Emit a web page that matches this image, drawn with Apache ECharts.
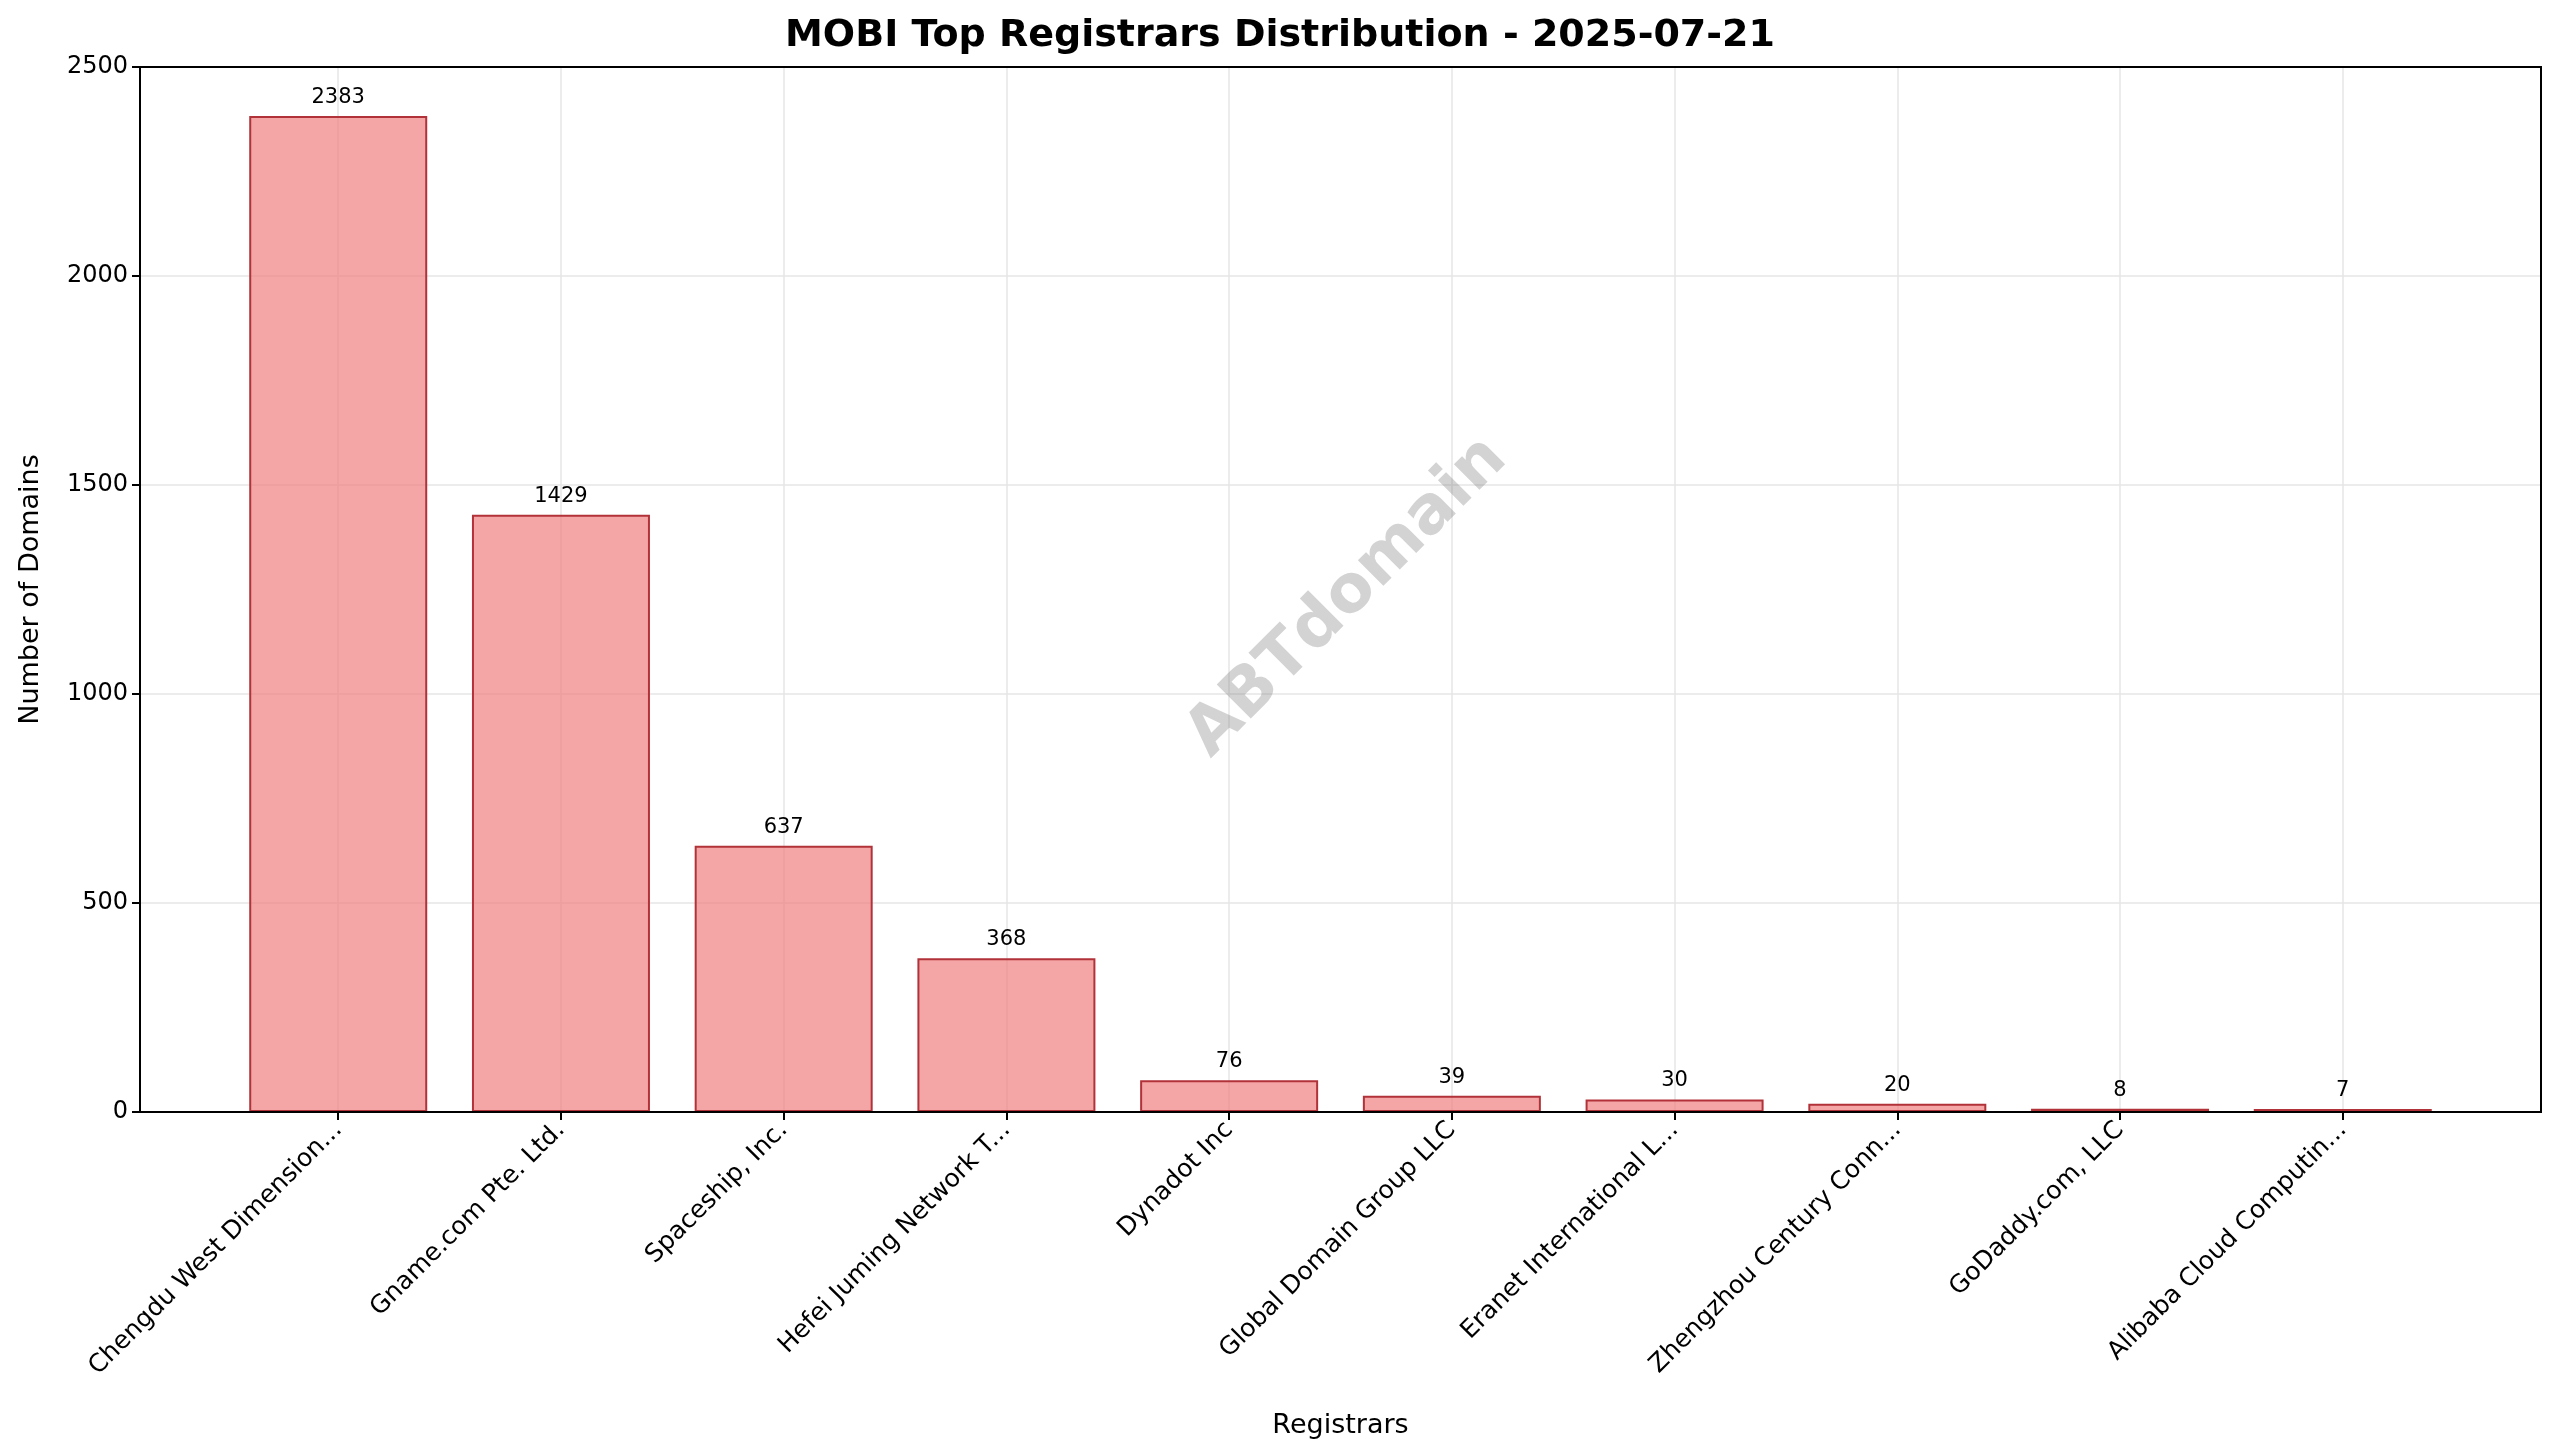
<!DOCTYPE html>
<html>
<head>
    <meta charset="utf-8">
    <title>ECharts</title>
    <script src="https://cdn.jsdelivr.net/npm/echarts/dist/echarts.min.js"></script>
</head>
<body style="margin:0">
    <div id="main" style="width: 2560px;height:1456px;"></div>
    <script>
        var registrars = ['Chengdu West Dimension...', 'Gname.com Pte. Ltd.', 'Spaceship, Inc.', 'Hefei Juming Network T...',
            'Dynadot Inc', 'Global Domain Group LLC', 'Eranet International L...', 'Zhengzhou Century Conn...',
            'GoDaddy.com, LLC', 'Alibaba Cloud Computin...'];
        var counts = [2383, 1429, 637, 368, 76, 39, 30, 20, 8, 7];
        var positions = registrars.map(function (_, i) { return i; });

        var myChart = echarts.init(document.getElementById('main'));
        var font = 'DejaVu Sans';
        var option = {
            backgroundColor: '#fff',
            textStyle: { fontFamily: font },
            title: {
                text: 'MOBI Top Registrars Distribution - 2025-07-21',
                left: 'center', top: 12,
                textStyle: { fontSize: 38, fontWeight: 'bold', color: '#000', fontFamily: font }
            },
            graphic: [{
                type: 'text', left: 1175, top: 425, rotation: Math.PI / 4, z: 100,
                style: { text: 'ABTdomain', fontSize: 66, fontWeight: 'bold', fill: 'rgba(128,128,128,0.35)',
                    fontFamily: font, textAlign: 'center', textVerticalAlign: 'middle' }
            }],
            grid: { left: 140, right: 19, top: 67, bottom: 344, show: true, borderColor: '#000', borderWidth: 2, z: 5 },
            xAxis: {
                type: 'value', min: -0.89, max: 9.89,
                name: 'Registrars', nameLocation: 'middle', nameGap: 300,
                nameTextStyle: { fontSize: 27, color: '#000' },
                axisLine: { show: false },
                splitLine: { show: false },
                axisTick: { show: true, customValues: positions, length: 8, lineStyle: { color: '#000', width: 2 } },
                axisLabel: {
                    customValues: positions, rotate: 45, fontSize: 25, color: '#000', margin: 14,
                    formatter: function (v) { return registrars[Math.round(v)]; }
                }
            },
            yAxis: {
                type: 'value', min: 0, max: 2500, interval: 500,
                name: 'Number of Domains', nameLocation: 'middle', nameGap: 96,
                nameTextStyle: { fontSize: 27, color: '#000' },
                axisLine: { show: true, onZero: false, lineStyle: { color: '#000', width: 2 } },
                axisTick: { show: true, length: 8, lineStyle: { color: '#000', width: 2 } },
                axisLabel: { fontSize: 24, color: '#000', margin: 12, formatter: function (v) { return String(v); } },
                splitLine: { lineStyle: { color: '#e6e6e6', width: 1.5 } }
            },
            series: [{
                type: 'bar',
                data: counts.map(function (v, i) { return [i, v]; }),
                barWidth: 178,
                itemStyle: { color: 'rgba(240,128,128,0.7)', borderColor: '#b2323a', borderWidth: 2 },
                label: { show: true, position: 'top', fontSize: 21, color: '#000', distance: 8,
                    formatter: function (p) { return p.value[1]; } },
                markLine: {
                    silent: true, symbol: 'none', label: { show: false }, z: 1,
                    lineStyle: { color: '#e6e6e6', width: 1.5, type: 'solid' },
                    data: positions.map(function (p) { return { xAxis: p }; })
                }
            }]
        };
        myChart.setOption(option);
    </script>
</body>
</html>
